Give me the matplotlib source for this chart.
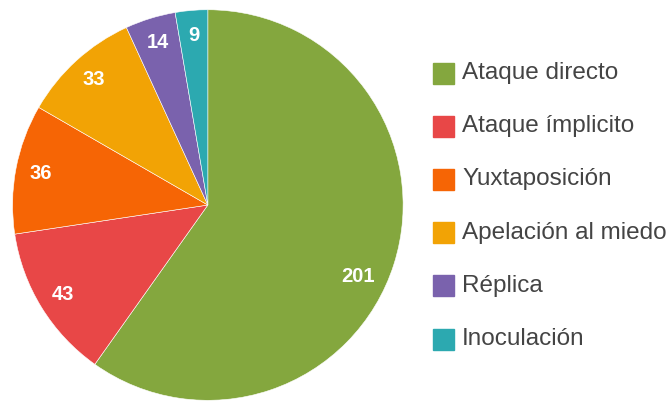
import numpy as np
import matplotlib.pyplot as plt
from matplotlib.patches import Rectangle

# datos
categorias = ['Ataque directo', 'Ataque ímplicito', 'Yuxtaposición',
              'Apelación al miedo', 'Réplica', 'Inoculación']
valores = [201, 43, 36, 33, 14, 9]
colores = ['#84A73E', '#E84747', '#F66505', '#F2A305', '#7A62AD', '#2CA9B0']

plt.rcParams['font.family'] = ['Liberation Sans', 'DejaVu Sans']

fig = plt.figure(figsize=(6.70, 4.01), dpi=100)
ax = fig.add_axes([0.0187, 0.0017, 0.583, 0.974])

wedges, textos = ax.pie(valores, colors=colores, startangle=90, counterclock=False,
                        labels=[str(v) for v in valores], labeldistance=0.87,
                        wedgeprops=dict(edgecolor='white', linewidth=0.4))
for t in textos:
    t.set_color('white')
    t.set_fontweight('bold')
    t.set_fontsize(14.5)
    t.set_ha('center')
    t.set_va('center')
# la etiqueta grande va un poco mas abajo en el original
ang = np.deg2rad(90 - 115.5)
textos[0].set_position((0.85 * np.cos(ang), 0.85 * np.sin(ang)))

ax.set_xlim(-1, 1)
ax.set_ylim(-1, 1)
ax.set_aspect('equal')

# leyenda a mano
y0 = 1 - 73 / 401
paso = 53.2 / 401
for i, (cat, col) in enumerate(zip(categorias, colores)):
    y = y0 - i * paso
    fig.patches.append(Rectangle((433 / 670, y - 10.5 / 401), 21 / 670, 21 / 401,
                                 transform=fig.transFigure, color=col))
    fig.text(462 / 670, y, cat, fontsize=17.5, color='#444444', va='center', ha='left')

plt.savefig('out.png', dpi=100)
